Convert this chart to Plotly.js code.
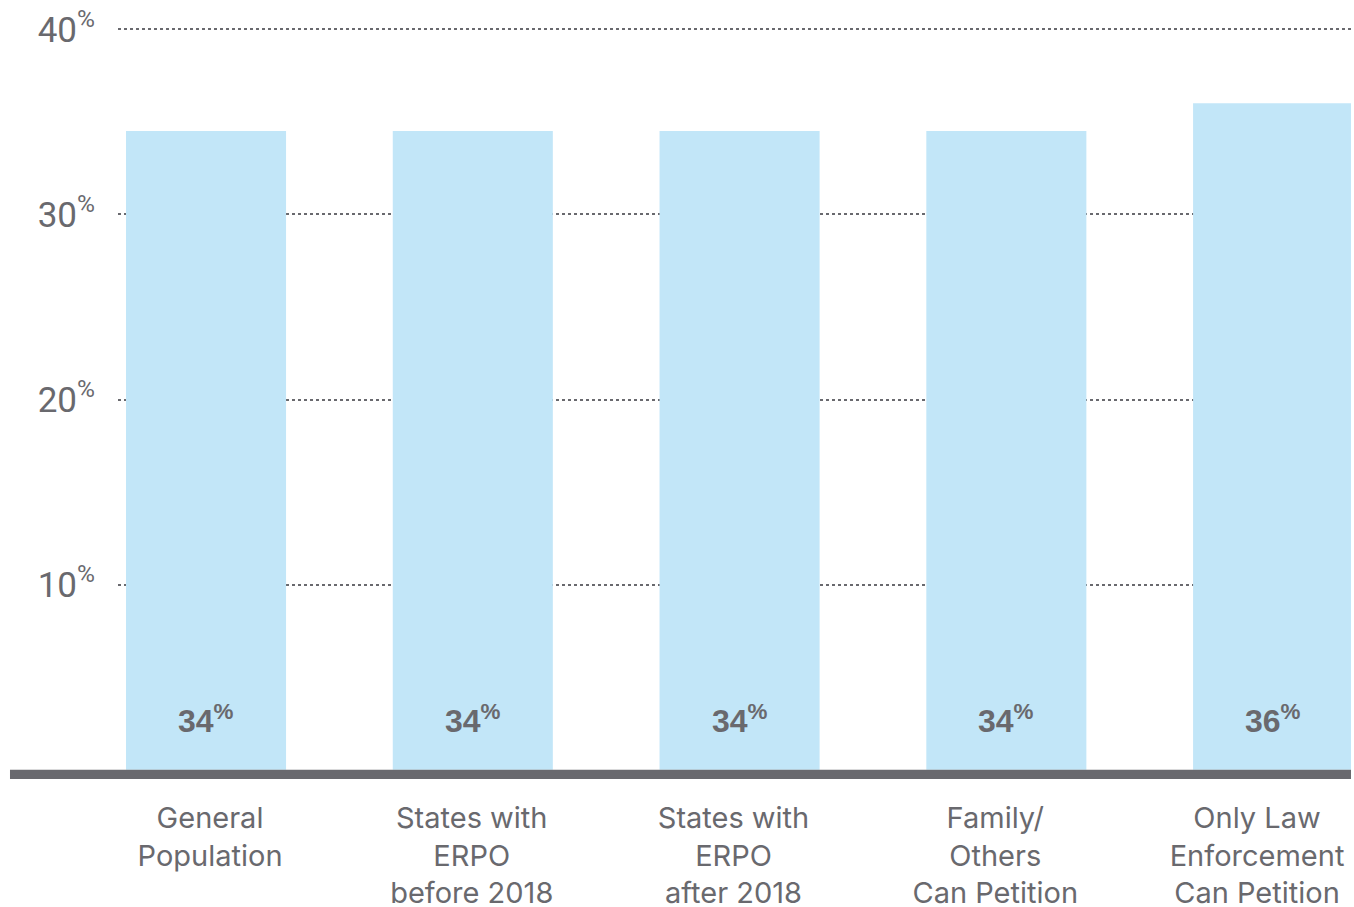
<!DOCTYPE html>
<html>
<head>
<meta charset="utf-8">
<script src="https://cdn.plot.ly/plotly-3.0.1.min.js"></script>
<style>html,body{margin:0;padding:0;background:#fff;}#chart{width:1354px;height:907px;}</style>
</head>
<body>
<div id="chart"></div>
<script>
var categories = ["General<br>Population", "States with<br>ERPO<br>before 2018", "States with<br>ERPO<br>after 2018", "Family/<br>Others<br>Can Petition", "Only Law<br>Enforcement<br>Can Petition"];
var values = [34.5, 34.5, 34.5, 34.5, 36];
var valueLabels = ["34", "34", "34", "34", "36"];
var yTickVals = [10, 20, 30, 40];
var yTickText = ["10", "20", "30", "40"];

var gray = "#69696e";
var barColor = "#c2e6f8";

var traces = [
  {
    type: "bar",
    x: categories,
    y: values,
    marker: {color: barColor, line: {width: 0}},
    width: 0.6,
    hoverinfo: "skip",
    xaxis: "x",
    yaxis: "y"
  },
  {
    type: "scatter",
    mode: "markers",
    x: categories,
    y: values.map(function(){ return null; }),
    hoverinfo: "skip",
    showlegend: false,
    xaxis: "x2",
    yaxis: "y"
  }
];

var annotations = categories.map(function(c, i){
  return {
    x: c, y: 0, xref: "x", yref: "y",
    text: valueLabels[i] + "<sup>%</sup>",
    showarrow: false,
    xanchor: "center", yanchor: "bottom",
    yshift: 29,
    font: {family: "Liberation Sans, Arial, sans-serif", size: 32, color: gray, weight: 900}
  };
});

var layout = {
  width: 1354, height: 907,
  margin: {l: 118, r: 3, t: 10, b: 128},
  paper_bgcolor: "#ffffff",
  plot_bgcolor: "#ffffff",
  showlegend: false,
  bargap: 0.4,
  xaxis: {
    type: "category",
    range: [-0.33, 4.292],
    showticklabels: false,
    showgrid: false,
    zeroline: false,
    showline: false,
    ticks: "",
    fixedrange: true
  },
  xaxis2: {
    type: "category",
    overlaying: "x",
    side: "bottom",
    anchor: "y",
    range: [-0.3515, 4.359],
    showgrid: false,
    zeroline: false,
    showline: false,
    ticks: "outside",
    ticklen: 13,
    tickcolor: "rgba(0,0,0,0)",
    tickfont: {family: "Inter, sans-serif", size: 29, color: gray},
    fixedrange: true
  },
  yaxis: {
    range: [-0.5, 41.04],
    tickvals: yTickVals,
    ticktext: yTickText.map(function(t){ return t + "<sup>%</sup>"; }),
    tickfont: {family: "Liberation Sans Narrow, Roboto, sans-serif", size: 35, color: gray},
    ticks: "outside",
    ticklen: 15,
    tickcolor: "rgba(0,0,0,0)",
    showgrid: true,
    gridcolor: gray,
    gridwidth: 2,
    griddash: "dot",
    zeroline: false,
    showline: false,
    fixedrange: true
  },
  shapes: [
    {
      type: "rect", layer: "above",
      xref: "paper", yref: "y",
      x0: -0.0876, x1: 1,
      y0: -0.5, y1: 0,
      fillcolor: gray,
      line: {width: 0}
    }
  ],
  annotations: annotations
};

Plotly.newPlot("chart", traces, layout, {displayModeBar: false, staticPlot: true});
</script>
</body>
</html>
